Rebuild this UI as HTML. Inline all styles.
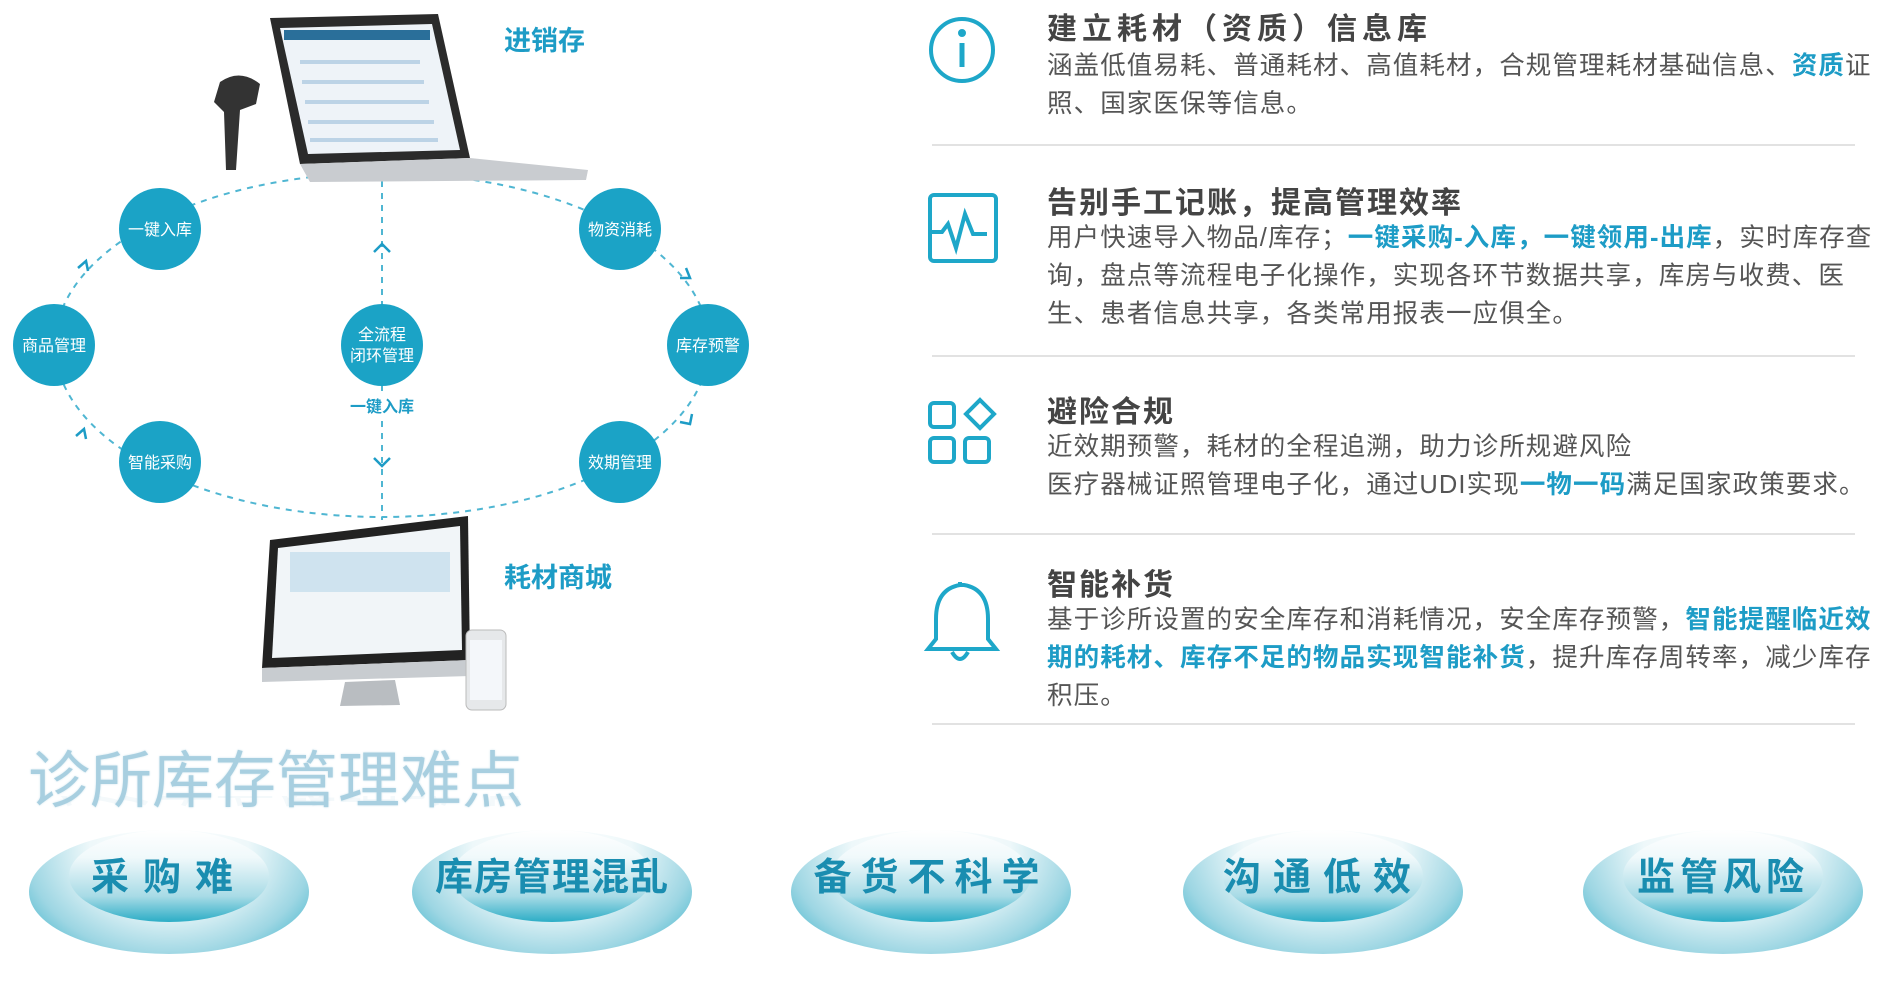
<!DOCTYPE html>
<html><head><meta charset="utf-8"><style>
body{margin:0;width:1891px;height:982px;background:#fff;overflow:hidden;position:relative;font-family:"Liberation Sans","Noto Sans CJK SC",sans-serif}
.a{position:absolute;white-space:nowrap}
.t{font-size:30px;font-weight:bold;color:#444;left:1047px;letter-spacing:2px}
.b{font-size:25.5px;color:#555;left:1047px;line-height:38px;letter-spacing:1.1px}
.h{color:#1d9cc6;font-weight:bold}
.sep{position:absolute;left:932px;width:923px;height:2px;background:#e2e2e2}
.bub{position:absolute;width:280px;height:124px;border-radius:50%;background:radial-gradient(ellipse at 50% 15%,#ffffff 0%,#eef8fa 40%,#9dd6e3 72%,#24aac4 100%)}
.bub i{position:absolute;left:40px;top:0;width:200px;height:92px;border-radius:50%;background:linear-gradient(#ffffff,#f0f9fb 30%,#a8dbe6 72%,#2cadc6)}
.bl{position:absolute;font-size:38px;font-weight:bold;color:#1a8db0;text-align:center;width:300px;letter-spacing:6px}
</style></head><body>
<svg class="a" style="left:0;top:0" width="760" height="720">
<ellipse cx="382" cy="345" rx="327" ry="172" fill="none" stroke="#4fb6d2" stroke-width="2" stroke-dasharray="6,6"/>
<line x1="382" y1="181" x2="382" y2="520" stroke="#4fb6d2" stroke-width="2" stroke-dasharray="6,6"/>
<path d="M374 252l8-8 8 8M374 458l8 8 8-8M78 268l8-7 2 10M76 436l8-7 2 10M686 268l4 10-10 0M692 414l-2 10-10-2" fill="none" stroke="#1d9cc6" stroke-width="2.5"/>
<g fill="#1ba3c6">
<circle cx="160" cy="229" r="41"/><circle cx="620" cy="229" r="41"/><circle cx="54" cy="345" r="41"/><circle cx="382" cy="345" r="41"/><circle cx="708" cy="345" r="41"/><circle cx="160" cy="462" r="41"/><circle cx="620" cy="462" r="41"/>
</g>
<g fill="#fff" font-size="16" text-anchor="middle" font-family="Liberation Sans,Noto Sans CJK SC,sans-serif">
<text x="160" y="235">一键入库</text><text x="620" y="235">物资消耗</text><text x="54" y="351">商品管理</text><text x="708" y="351">库存预警</text><text x="160" y="468">智能采购</text><text x="620" y="468">效期管理</text>
<text x="382" y="340">全流程</text><text x="382" y="361">闭环管理</text>
</g>
<rect x="350" y="394" width="64" height="22" fill="#fff"/>
<text x="382" y="412" fill="#1d9cc6" font-size="16" font-weight="bold" text-anchor="middle">一键入库</text>
<polygon points="270,18 438,14 470,158 300,164" fill="#2b2b2b"/>
<polygon points="280,28 432,24 460,150 308,154" fill="#eef3f8"/>
<rect x="284" y="30" width="146" height="10" fill="#2a6f9a"/>
<g fill="#bcd3e6"><rect x="300" y="60" width="120" height="4"/><rect x="302" y="80" width="122" height="4"/><rect x="305" y="100" width="124" height="4"/><rect x="308" y="120" width="126" height="4"/><rect x="310" y="138" width="128" height="4"/></g>
<polygon points="300,164 470,158 588,170 586,180 310,182" fill="#c9ccd0"/>
<path d="M220 82 q20-14 40 2 l-4 20 -16 6 -4 60 -10 0 -2-58 -10-10z" fill="#333"/>
<polygon points="270,540 468,516 470,660 262,668" fill="#222"/>
<polygon points="278,548 460,526 462,650 272,658" fill="#f1f5f8"/>
<rect x="290" y="552" width="160" height="40" fill="#cfe3ef"/>
<polygon points="262,668 470,660 470,676 262,682" fill="#c8ccd0"/>
<polygon points="345,682 395,680 400,705 340,706" fill="#b9bdc1"/>
<rect x="466" y="630" width="40" height="80" rx="6" fill="#e6e8ea" stroke="#bbb"/>
<rect x="470" y="640" width="32" height="60" fill="#f4f7fa"/>
<text x="504" y="50" fill="#1d9cc6" font-size="27" font-weight="bold">进销存</text>
<text x="504" y="587" fill="#1d9cc6" font-size="27" font-weight="bold">耗材商城</text>
</svg>

<svg class="a" style="left:920px;top:10px" width="90" height="700" fill="none" stroke="#1ea7c9" stroke-width="4">
<circle cx="42" cy="40" r="31"/><line x1="42" y1="33" x2="42" y2="57" stroke-width="5"/><circle cx="42" cy="23" r="2" fill="#1ea7c9"/>
<rect x="10" y="185" width="66" height="66" rx="4"/><path d="M8 222h14l6-8 8 24 9-34 8 20h14" />
<rect x="10" y="393" width="24" height="24" rx="4"/><path d="M60 390l14 14-14 14-14-14z"/><rect x="10" y="428" width="24" height="24" rx="4"/><rect x="45" y="428" width="24" height="24" rx="4"/>
<path d="M40 575q-24 4-24 34v20l-8 10h68l-8-10v-20q0-30-24-34z"/><path d="M32 642q8 14 16 0"/><line x1="40" y1="572" x2="40" y2="576"/>
</svg>

<div class="a t" style="top:4px;letter-spacing:5px">建立耗材（资质）信息库</div>
<div class="a b" style="top:47px">涵盖低值易耗、普通耗材、高值耗材，合规管理耗材基础信息、<span class="h">资质</span>证<br>照、国家医保等信息。</div>
<div class="sep" style="top:144px"></div>
<div class="a t" style="top:178px">告别手工记账，提高管理效率</div>
<div class="a b" style="top:219px">用户快速导入物品/库存；<span class="h">一键采购-入库，一键领用-出库</span>，实时库存查<br>询，盘点等流程电子化操作，实现各环节数据共享，库房与收费、医<br>生、患者信息共享，各类常用报表一应俱全。</div>
<div class="sep" style="top:355px"></div>
<div class="a t" style="top:387px">避险合规</div>
<div class="a b" style="top:428px">近效期预警，耗材的全程追溯，助力诊所规避风险<br>医疗器械证照管理电子化，通过UDI实现<span class="h">一物一码</span>满足国家政策要求。</div>
<div class="sep" style="top:533px"></div>
<div class="a t" style="top:560px">智能补货</div>
<div class="a b" style="top:601px">基于诊所设置的安全库存和消耗情况，安全库存预警，<span class="h">智能提醒临近效</span><br><span class="h">期的耗材、库存不足的物品实现智能补货</span>，提升库存周转率，减少库存<br>积压。</div>
<div class="sep" style="top:723px"></div>

<div class="a" style="left:28px;top:730px;font-size:62px;color:#a8cfe0;letter-spacing:0px;text-shadow:0 0 2px #cfe5ee">诊所库存管理难点</div>
<div class="a" style="left:28px;top:796px;font-size:62px;color:#a8cfe0;transform:scaleY(-1);opacity:.12;height:30px;overflow:hidden">诊所库存管理难点</div>

<div class="bub" style="left:29px;top:830px"><i></i></div>
<div class="bub" style="left:412px;top:830px"><i></i></div>
<div class="bub" style="left:791px;top:830px"><i></i></div>
<div class="bub" style="left:1183px;top:830px"><i></i></div>
<div class="bub" style="left:1583px;top:830px"><i></i></div>
<div class="bl" style="left:19px;top:846px;letter-spacing:14px">采购难</div>
<div class="bl" style="left:402px;top:846px;letter-spacing:1px">库房管理混乱</div>
<div class="bl" style="left:781px;top:846px;letter-spacing:9px">备货不科学</div>
<div class="bl" style="left:1173px;top:846px;letter-spacing:12px">沟通低效</div>
<div class="bl" style="left:1573px;top:846px;letter-spacing:5px">监管风险</div>
</body></html>
